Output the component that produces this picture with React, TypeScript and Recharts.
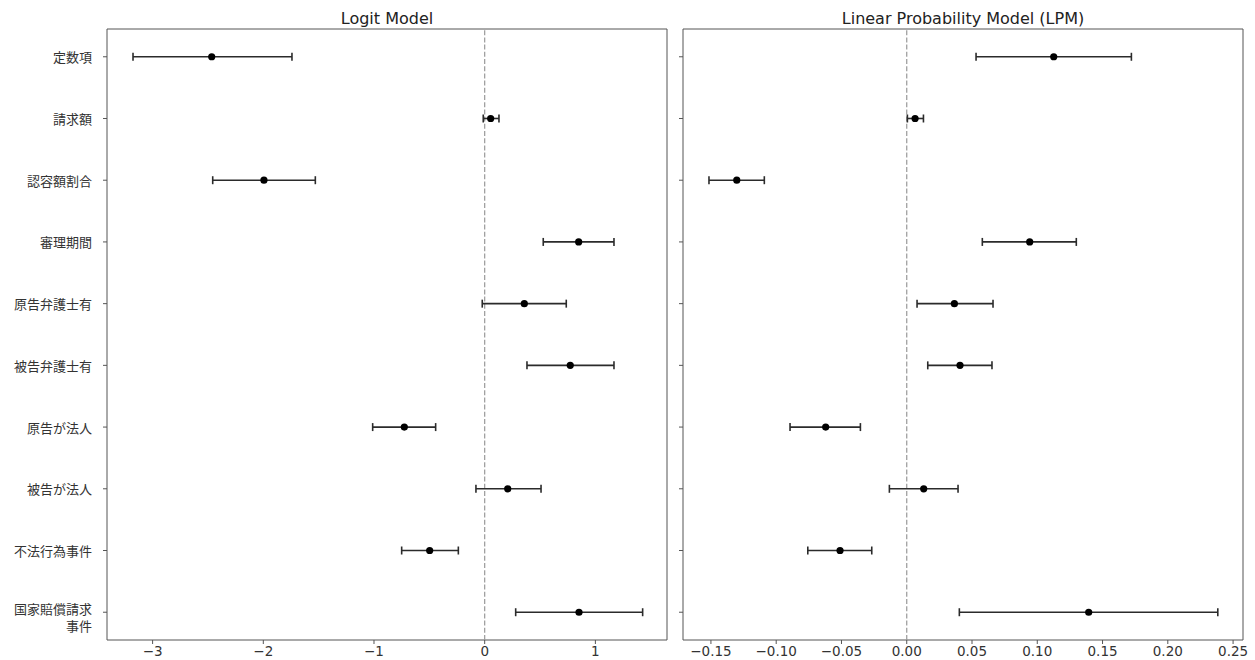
import {
  ScatterChart, Scatter, XAxis, YAxis, ErrorBar, ReferenceLine, ReferenceArea,
} from "recharts";

const categories = [
  "定数項", "請求額", "認容額割合", "審理期間", "原告弁護士有",
  "被告弁護士有", "原告が法人", "被告が法人", "不法行為事件", "国家賠償請求\n事件",
];

// Logit model: coefficient and 95% CI
const logitCoef = [-2.466, 0.054, -1.994, 0.849, 0.358, 0.773, -0.726, 0.208, -0.497, 0.852];
const logitLow = [-3.177, -0.013, -2.457, 0.529, -0.022, 0.382, -1.012, -0.079, -0.75, 0.28];
const logitHigh = [-1.741, 0.129, -1.53, 1.168, 0.737, 1.168, -0.443, 0.509, -0.238, 1.427];
const logitTicks = [-3, -2, -1, 0, 1];

// LPM: coefficient and 95% CI
const lpmCoef = [0.1126, 0.0064, -0.1302, 0.0942, 0.0365, 0.0408, -0.0621, 0.013, -0.0511, 0.1394];
const lpmLow = [0.0531, 0.0005, -0.1515, 0.0579, 0.0079, 0.0161, -0.0894, -0.0133, -0.0758, 0.0403];
const lpmHigh = [0.1721, 0.0128, -0.1091, 0.1299, 0.0661, 0.0653, -0.0355, 0.0393, -0.0268, 0.2383];
const lpmTicks = [-0.15, -0.1, -0.05, 0, 0.05, 0.1, 0.15, 0.2, 0.25];

const rowTicks = categories.map((_, i) => i);
const Y_DOMAIN: [number, number] = [-0.45, 9.45];
const AXIS = "#555";
const TEXT = "#333";

const build = (coef: number[], low: number[], high: number[]) =>
  coef.map((c, i) => ({ y: i, x: c, err: [c - low[i], high[i] - c] }));

const minus = (s: string) => s.replace("-", "\u2212");

function CatTick(props: any) {
  const { x, y, payload } = props;
  const lines = String(categories[payload.value] ?? "").split("\n");
  const start = lines.length > 1 ? -4 : 0;
  return (
    <g>
      {lines.map((l, k) => (
        <text key={k} x={x} y={y + start + k * 17} textAnchor="end" dominantBaseline="central"
          fontFamily="'Noto Sans CJK JP'" fontSize={13} fill={TEXT}>
          {l}
        </text>
      ))}
    </g>
  );
}

function Dot(props: any) {
  return <circle cx={props.cx} cy={props.cy} r={3.6} fill="#000" />;
}

function Panel({ data, domain, ticks, fmt, width, yWidth, left, right, labels }: any) {
  return (
    <ScatterChart width={width} height={660} margin={{ top: 29, right, bottom: 0, left }}>
      <XAxis type="number" dataKey="x" domain={domain} ticks={ticks} allowDataOverflow
        interval={0} tickFormatter={fmt} height={20} tickSize={4} tickMargin={2}
        axisLine={false} tickLine={{ stroke: AXIS }}
        tick={{ fill: TEXT, fontSize: 13.5, fontFamily: "'DejaVu Sans'" }} />
      <YAxis type="number" dataKey="y" domain={Y_DOMAIN} ticks={rowTicks} reversed
        allowDataOverflow interval={0} width={yWidth} tickSize={4} tickMargin={11}
        axisLine={false} tickLine={{ stroke: AXIS }}
        tick={labels ? <CatTick /> : () => <g />} />
      <ReferenceArea x1={domain[0]} x2={domain[1]} y1={Y_DOMAIN[0]} y2={Y_DOMAIN[1]}
        fill="none" stroke={AXIS} strokeWidth={1} />
      <ReferenceLine x={0} stroke="#999" strokeDasharray="5 2.2" strokeWidth={1.2} />
      <Scatter data={data} shape={<Dot />} isAnimationActive={false}>
        <ErrorBar dataKey="err" direction="x" width={4} stroke="#2b2b2b" strokeWidth={1.6}
          isAnimationActive={false} />
      </Scatter>
    </ScatterChart>
  );
}

const titleStyle: any = {
  position: "absolute", top: 10, fontFamily: "'DejaVu Sans'", fontSize: 16,
  lineHeight: "18px", color: "#222", textAlign: "center",
};

export default function App() {
  const logitData = build(logitCoef, logitLow, logitHigh);
  const lpmData = build(lpmCoef, lpmLow, lpmHigh);
  return (
    <div style={{ position: "absolute", left: 0, top: 0, width: 1255, height: 660, background: "#fff" }}>
      <div style={{ ...titleStyle, left: 107, width: 560 }}>Logit Model</div>
      <div style={{ ...titleStyle, left: 683, width: 560 }}>Linear Probability Model (LPM)</div>
      <div style={{ position: "absolute", left: 0, top: 0 }}>
        <Panel data={logitData} domain={[-3.412, 1.647]} ticks={logitTicks}
          fmt={(v: number) => minus(String(v))} width={675} yWidth={100} left={7} right={8} labels />
      </div>
      <div style={{ position: "absolute", left: 675, top: 0 }}>
        <Panel data={lpmData} domain={[-0.1714, 0.2576]} ticks={lpmTicks}
          fmt={(v: number) => minus(v.toFixed(2))} width={580} yWidth={8} left={0} right={12} labels={false} />
      </div>
    </div>
  );
}
